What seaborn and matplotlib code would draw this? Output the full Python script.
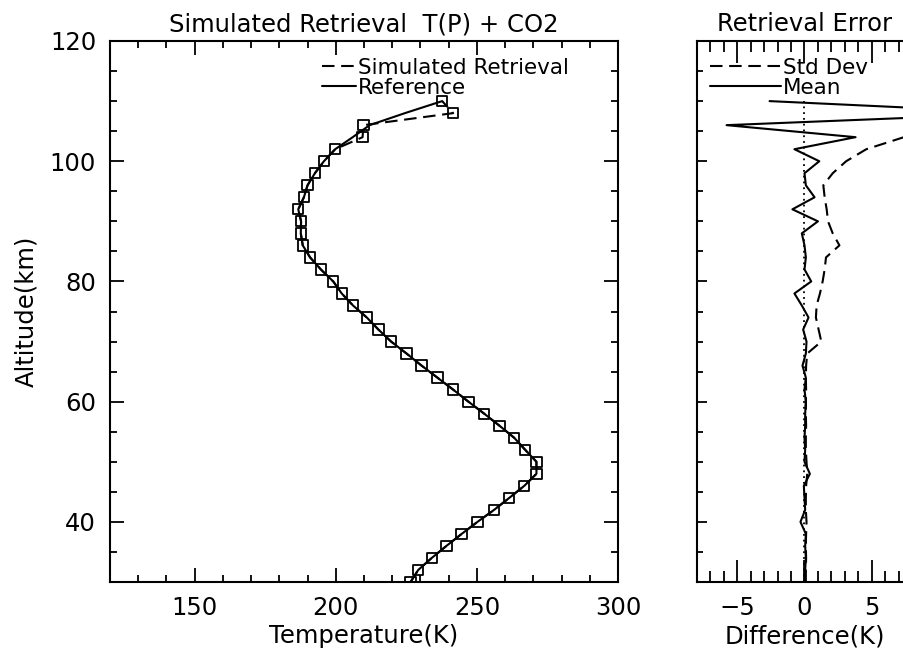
import matplotlib
matplotlib.use("Agg")
import matplotlib.pyplot as plt
import seaborn as sns
import pandas as pd
from matplotlib.ticker import MultipleLocator

# ---------------- data ----------------
altitude = [30, 32, 34, 36, 38, 40, 42, 44, 46, 48, 50, 52, 54, 56, 58, 60,
            62, 64, 66, 68, 70, 72, 74, 76, 78, 80, 82, 84, 86, 88, 90, 92,
            94, 96, 98, 100, 102, 104, 106, 108, 110]

ref_temp = [226.5, 229.2, 234.0, 239.2, 244.6, 250.2, 256.1, 261.5, 266.8, 271.1,
            271.1, 267.1, 263.2, 258.0, 252.6, 247.0, 241.6, 236.0, 230.4, 225.1,
            219.6, 215.1, 211.0, 206.1, 202.1, 199.1, 194.7, 190.9, 188.3, 187.6,
            187.7, 186.7, 188.7, 190.0, 192.6, 195.8, 199.8, 206.0, 212.0, 224.5,
            237.7]

ret_temp = [226.5, 229.2, 234.0, 239.2, 244.6, 250.2, 256.1, 261.5, 266.8, 271.1,
            271.1, 267.1, 263.2, 258.0, 252.6, 247.0, 241.6, 236.0, 230.4, 225.1,
            219.6, 215.1, 211.0, 206.1, 202.1, 199.1, 194.7, 190.9, 188.3, 187.6,
            187.7, 186.7, 188.7, 190.0, 192.6, 195.8, 199.8, 209.5, 209.8, 241.6,
            237.7]

mean_diff = [0.0, 0.05, 0.1, 0.05, 0.1, -0.3, 0.05, 0.0, -0.05, 0.4,
             0.0, 0.05, 0.0, 0.05, 0.05, 0.1, 0.0, 0.1, -0.15, 0.1,
             0.15, -0.1, 0.3, -0.2, -0.75, 0.5, 0.0, 0.1, 0.0, -0.2,
             1.0, -0.9, 0.75, 0.1, 0.0, 1.1, -0.75, 3.8, -5.8, 16.5,
             -2.6]

std_dev = [0.1, 0.1, 0.12, 0.1, 0.12, 0.15, 0.1, 0.1, 0.12, 0.2,
           0.15, 0.1, 0.1, 0.12, 0.1, 0.1, 0.12, 0.1, 0.12, 0.2,
           1.25, 1.05, 0.85, 0.9, 1.15, 1.35, 1.5, 1.6, 2.6, 2.1,
           1.75, 1.65, 1.5, 1.4, 2.1, 3.1, 4.6, 7.4, 11.0, 15.0,
           18.0]

zero_line = [0.0] * len(altitude)

temp_ticks = [150, 200, 250, 300]
alt_ticks = [40, 60, 80, 100, 120]
diff_ticks = [-5, 0, 5]

df = pd.DataFrame({"alt": altitude, "ref": ref_temp, "ret": ret_temp,
                   "mean": mean_diff, "std": std_dev, "zero": zero_line})

# ---------------- style ----------------
sns.set_style("white")
plt.rcParams["font.family"] = ["DejaVu Sans"]
plt.rcParams["axes.linewidth"] = 1.5
plt.rcParams["text.color"] = "black"
plt.rcParams["axes.labelcolor"] = "black"
plt.rcParams["xtick.color"] = "black"
plt.rcParams["ytick.color"] = "black"
FS = 17.5
LFS = 15.5

fig = plt.figure(figsize=(9.04, 6.55), dpi=100)
W, H = 904.0, 655.0
ax1 = fig.add_axes([110 / W, 73 / H, 508 / W, 541 / H])
ax2 = fig.add_axes([697 / W, 73 / H, 215 / W, 541 / H])

dash = (0, (6, 3.2))
LW = 1.5

# ---------------- left panel ----------------
sns.lineplot(data=df, x="ret", y="alt", sort=False, estimator=None, ax=ax1,
             color="black", lw=LW, linestyle=dash, label="Simulated Retrieval")
sns.lineplot(data=df, x="ref", y="alt", sort=False, estimator=None, ax=ax1,
             color="black", lw=LW, label="Reference")
sns.scatterplot(data=df, x="ret", y="alt", ax=ax1, marker="s", s=55,
                facecolor="none", edgecolor="black", linewidth=1.3, zorder=3)

ax1.set_xlim(120, 300)
ax1.set_ylim(30, 120)
ax1.set_xticks(temp_ticks)
ax1.set_yticks(alt_ticks)
ax1.xaxis.set_minor_locator(MultipleLocator(10))
ax1.yaxis.set_minor_locator(MultipleLocator(5))
ax1.tick_params(which="both", direction="in", top=True, right=True,
                bottom=True, left=True, width=1.3, labelsize=FS, pad=10)
ax1.tick_params(which="major", length=10)
ax1.tick_params(which="minor", length=5)
ax1.set_xlabel("Temperature(K)", fontsize=FS, labelpad=3)
ax1.set_ylabel("Altitude(km)", fontsize=FS, labelpad=8)
ax1.set_title("Simulated Retrieval  T(P) + CO2", fontsize=FS, pad=7)

ax1.legend(loc="upper left", bbox_to_anchor=(322 / W, 1 - 58 / H),
           bbox_transform=fig.transFigure, frameon=False, fontsize=LFS,
           handlelength=1.6, handletextpad=0.05, labelspacing=0.0,
           borderpad=0, borderaxespad=0)

# ---------------- right panel ----------------
sns.lineplot(data=df, x="std", y="alt", sort=False, estimator=None, ax=ax2,
             color="black", lw=LW, linestyle=dash, label="Std Dev")
sns.lineplot(data=df, x="mean", y="alt", sort=False, estimator=None, ax=ax2,
             color="black", lw=LW, label="Mean")
sns.lineplot(data=df, x="zero", y="alt", sort=False, estimator=None, ax=ax2,
             color="black", lw=1.3, linestyle=(0, (1, 2.2)))

ax2.set_xlim(-8, 8)
ax2.set_ylim(30, 120)
ax2.set_xticks(diff_ticks)
ax2.set_yticks(alt_ticks)
ax2.xaxis.set_minor_locator(MultipleLocator(1))
ax2.yaxis.set_minor_locator(MultipleLocator(5))
ax2.tick_params(which="both", direction="in", top=True, right=False,
                bottom=True, left=True, width=1.3, labelsize=FS, pad=10,
                labelleft=False)
ax2.tick_params(axis="x", which="major", length=16)
ax2.tick_params(axis="x", which="minor", length=8)
ax2.tick_params(axis="y", which="major", length=7.5)
ax2.tick_params(axis="y", which="minor", length=4)
ax2.set_xlabel("Difference(K)", fontsize=FS, labelpad=3)
ax2.set_ylabel("")
ax2.set_title("Retrieval Error", fontsize=FS, pad=7)

ax2.legend(loc="upper left", bbox_to_anchor=(710 / W, 1 - 58 / H),
           bbox_transform=fig.transFigure, frameon=False, fontsize=LFS,
           handlelength=3.3, handletextpad=0.1, labelspacing=0.0,
           borderpad=0, borderaxespad=0)

for ax in (ax1, ax2):
    for sp in ax.spines.values():
        sp.set_color("black")
        sp.set_linewidth(1.5)

fig.savefig("out.png", dpi=100)
